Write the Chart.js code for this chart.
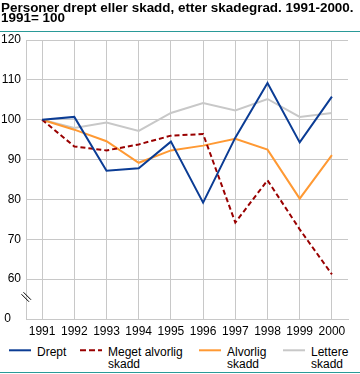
<!DOCTYPE html>
<html>
<head>
<meta charset="utf-8">
<script src="https://cdn.jsdelivr.net/npm/chart.js@4.4.1/dist/chart.umd.min.js"></script>
<style>
  html, body { margin: 0; padding: 0; background: #fff; }
  #wrap { position: relative; width: 360px; height: 374px; overflow: hidden; font-family: "Liberation Sans", Arial, sans-serif; }
  .t { position: absolute; left: 1px; font-weight: bold; font-size: 13.45px; line-height: 15px; color: #000; white-space: nowrap; }
  .rule { position: absolute; left: 0; width: 360px; height: 1px; background: #2a9a98; }
  #chartBox { position: absolute; left: 0; top: 0; width: 360px; height: 340px; }
  .lg { position: absolute; top: 346px; font-size: 12px; line-height: 12px; color: #000; white-space: nowrap; }
  .sw { position: absolute; top: 345px; }
</style>
</head>
<body>
<div id="wrap">
  <div id="chartBox"><canvas id="c" width="360" height="340"></canvas></div>
  <div class="t" style="top:0px">Personer drept eller skadd, etter skadegrad. 1991-2000.</div>
  <div class="t" style="top:10px">1991= 100</div>
  <div class="rule" style="top:31px"></div>
  <div class="rule" style="top:372px"></div>
  <div id="legend"></div>
</div>
<script>
const years = ['1991','1992','1993','1994','1995','1996','1997','1998','1999','2000'];
const seriesNames = ['Drept', 'Meget alvorlig skadd', 'Alvorlig skadd', 'Lettere skadd'];
const legendLines = [['Drept'], ['Meget alvorlig', 'skadd'], ['Alvorlig', 'skadd'], ['Lettere', 'skadd']];
const drept = [100, 100.7, 87.2, 87.8, 94.5, 79.2, 95.5, 109.2, 94.3, 105.8];
const megetAlvorlig = [100, 93.3, 92.3, 93.8, 96.0, 96.4, 74.2, 84.8, 72.5, 61.2];
const alvorlig = [100, 97.5, 94.6, 89.2, 92.3, 93.5, 95.2, 92.5, 80.2, 91.1];
const lettere = [100, 97.9, 99.3, 97.2, 101.7, 104.2, 102.3, 105.2, 100.7, 101.7];
const yTicks = [50, 60, 70, 80, 90, 100, 110, 120];   // 50 is shown as "0" (broken axis)
const yTickLabels = ['0', '60', '70', '80', '90', '100', '110', '120'];

const colors = ['#0b3c94', '#990000', '#ff9933', '#c8c8c8'];
const dashes = [[], [5, 3], [], []];
const seriesData = [drept, megetAlvorlig, alvorlig, lettere];

const breakMark = {
  id: 'breakMark',
  afterDraw(chart) {
    const ctx = chart.ctx;
    const y = chart.scales.y.getPixelForValue(55.2);
    const x = chart.scales.y.right;
    ctx.save();
    ctx.strokeStyle = '#000';
    ctx.lineWidth = 1;
    ctx.beginPath();
    ctx.moveTo(x - 4.5, y - 4); ctx.lineTo(x + 3, y + 3.5);
    ctx.moveTo(x - 2.5, y - 6); ctx.lineTo(x + 5, y + 1.5);
    ctx.stroke();
    ctx.restore();
  }
};

new Chart(document.getElementById('c'), {
  type: 'line',
  data: {
    labels: years,
    datasets: seriesData.map((d, i) => ({
      label: seriesNames[i],
      data: d,
      borderColor: colors[i],
      backgroundColor: colors[i],
      borderWidth: 2,
      borderDash: dashes[i],
      pointRadius: 0,
      tension: 0,
      fill: false
    }))
  },
  options: {
    responsive: false,
    animation: false,
    devicePixelRatio: 1,
    layout: { padding: { top: 40, right: 12, left: 0, bottom: 0 } },
    plugins: { legend: { display: false }, tooltip: { enabled: false }, title: { display: false } },
    scales: {
      x: {
        type: 'category',
        offset: true,
        grid: { color: '#c8c8c8', drawTicks: false, lineWidth: 1 },
        border: { color: '#c8c8c8' },
        ticks: { color: '#000', font: { family: 'Liberation Sans', size: 12 }, padding: 5, maxRotation: 0, autoSkip: false },
        afterFit(s) { s.height = 21; }
      },
      y: {
        min: 50, max: 120,
        afterBuildTicks(s) { s.ticks = yTicks.map(v => ({ value: v })); },
        grid: { color: '#c8c8c8', drawTicks: false, lineWidth: 1 },
        border: { color: '#c8c8c8' },
        ticks: {
          color: '#000', font: { family: 'Liberation Sans', size: 12 }, padding: 5,
          callback(v) { const i = yTicks.indexOf(v); return i === 0 ? yTickLabels[i] + '   ' : yTickLabels[i]; }
        },
        afterFit(s) { s.width = 26; }
      }
    }
  },
  plugins: [breakMark]
});

// legend
const lgPos = [
  { sx: 9, tx: 37 }, { sx: 80, tx: 108 }, { sx: 199, tx: 227 }, { sx: 283, tx: 311 }
];
const lg = document.getElementById('legend');
legendLines.forEach((lines, i) => {
  const svgNS = 'http://www.w3.org/2000/svg';
  const svg = document.createElementNS(svgNS, 'svg');
  svg.setAttribute('width', '22'); svg.setAttribute('height', '10');
  svg.setAttribute('class', 'sw');
  svg.style.left = lgPos[i].sx + 'px';
  const ln = document.createElementNS(svgNS, 'line');
  ln.setAttribute('x1', '0'); ln.setAttribute('x2', '22');
  ln.setAttribute('y1', '5.3'); ln.setAttribute('y2', '5.3');
  ln.setAttribute('stroke', colors[i]); ln.setAttribute('stroke-width', '2');
  if (dashes[i].length) ln.setAttribute('stroke-dasharray', '6 3');
  svg.appendChild(ln);
  lg.appendChild(svg);
  const t = document.createElement('div');
  t.className = 'lg';
  t.style.left = lgPos[i].tx + 'px';
  t.innerHTML = lines.join('<br>');
  lg.appendChild(t);
});
</script>
</body>
</html>
